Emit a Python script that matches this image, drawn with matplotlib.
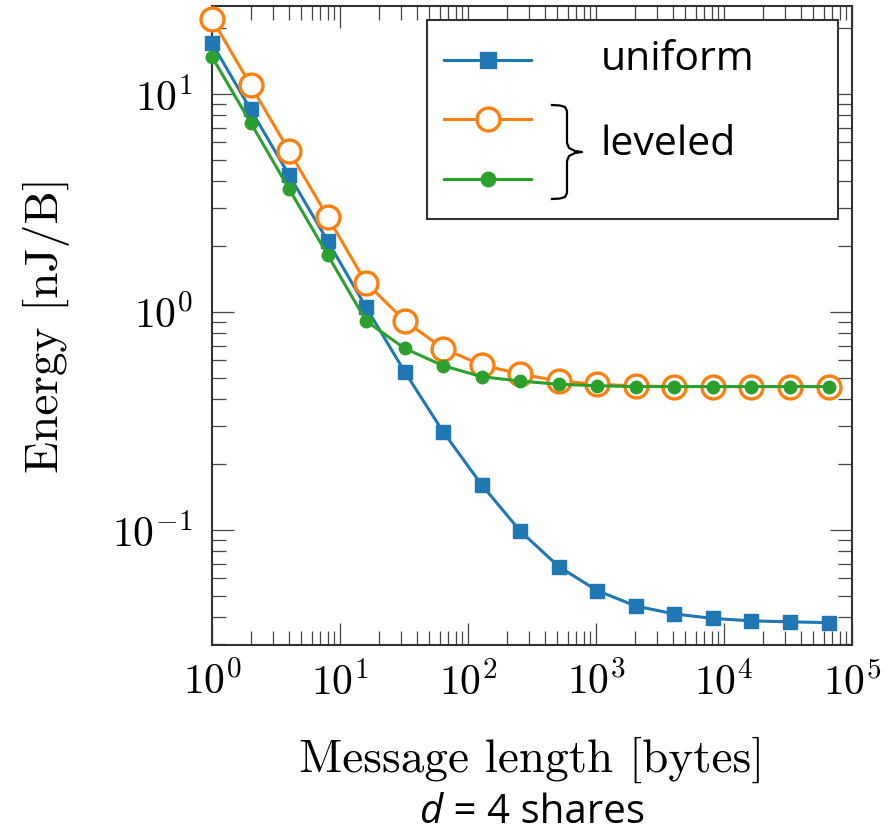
import numpy as np
import matplotlib
matplotlib.use("Agg")
import matplotlib.pyplot as plt
from matplotlib.lines import Line2D
from matplotlib.patches import Rectangle

plt.rcParams['mathtext.fontset'] = 'cm'
plt.rcParams['font.family'] = 'serif'
plt.rcParams['font.serif'] = ['cmr10']
plt.rcParams['axes.formatter.use_mathtext'] = True

# ---- data ----
msg_len = [1, 2, 4, 8, 16, 32, 64, 128, 256, 512, 1024, 2048, 4096, 8192, 16384, 32768, 65536]
uniform = [17.1, 8.5, 4.25, 2.12, 1.05, 0.532, 0.282, 0.161, 0.0989, 0.0679, 0.0527,
           0.0448, 0.0412, 0.0393, 0.0383, 0.0379, 0.0376]
leveled_a = [22.1, 11.0, 5.48, 2.73, 1.36, 0.912, 0.68, 0.571, 0.520, 0.482, 0.466,
             0.458, 0.455, 0.455, 0.455, 0.455, 0.455]
leveled_b = [14.8, 7.4, 3.67, 1.83, 0.91, 0.681, 0.567, 0.505, 0.482, 0.466, 0.459,
             0.455, 0.455, 0.455, 0.455, 0.455, 0.455]
legend_labels = ['uniform', 'leveled']
caption_var, caption_rest = 'd', '= 4 shares'

blue, orange, green = '#1f77b4', '#ff7f0e', '#2ca02c'

W, H = 895, 836
fig = plt.figure(figsize=(W / 100, H / 100), dpi=100)
L, R, T, B = 212, 852, 6, 645
ax = fig.add_axes([L / W, (H - B) / H, (R - L) / W, (B - T) / H])

ax.plot(msg_len, uniform, color=blue, lw=2.2, marker='s', ms=9.5, clip_on=False, zorder=3)
ax.plot(msg_len, leveled_a, color=orange, lw=2.2, marker='o', ms=16.5, mfc='white',
        mec=orange, mew=2.4, clip_on=False, zorder=4)
ax.plot(msg_len, leveled_b, color=green, lw=2.2, marker='o', ms=9, clip_on=False, zorder=5)

ax.set_xscale('log')
ax.set_yscale('log')
ax.set_xlim(1, 1e5)
ylo = 10 ** (-1 - (B - 530) / 218)
yhi = 10 ** ((312 - T) / 218)
ax.set_ylim(ylo, yhi)

ax.tick_params(which='both', direction='in', top=True, right=True, colors='#444444',
               labelcolor='black', labelsize=30)
ax.tick_params(which='major', length=16, width=0.9)
ax.tick_params(which='minor', length=10, width=0.9)
ax.tick_params(axis='x', which='major', pad=12)
ax.tick_params(axis='y', which='major', pad=14)
ax.xaxis.set_major_locator(matplotlib.ticker.LogLocator(base=10, numticks=10))
ax.xaxis.set_minor_locator(matplotlib.ticker.LogLocator(base=10, subs=np.arange(2, 10), numticks=20))
ax.yaxis.set_minor_locator(matplotlib.ticker.LogLocator(base=10, subs=np.arange(2, 10), numticks=20))
ax.yaxis.set_minor_formatter(matplotlib.ticker.NullFormatter())
ax.xaxis.set_minor_formatter(matplotlib.ticker.NullFormatter())
for s in ax.spines.values():
    s.set_linewidth(1.5)
    s.set_color('#333333')

ax.set_xlabel('Message length [bytes]', fontsize=34, labelpad=24)
ax.set_ylabel('Energy [nJ/B]', fontsize=34, labelpad=30)

# caption: italic variable followed by upright text, centred under the axes
cy = 1 - 813 / H
t1 = fig.text(0, cy, caption_var, ha='left', va='center', fontsize=29,
              family='Open Sans', style='italic')
t2 = fig.text(0, cy, ' ' + caption_rest, ha='left', va='center', fontsize=29,
              family='Open Sans')
fig.canvas.draw()
r = fig.canvas.get_renderer()
w1 = t1.get_window_extent(r).width
w2 = t2.get_window_extent(r).width
cx = 0.5 * (L + R)
start = cx - (w1 + w2) / 2
t1.set_x(start / W)
t2.set_x((start + w1) / W)

# custom legend (pixel -> axes coordinates)
def ac(px, py):
    return (px - L) / (R - L), (B - py) / (B - T)

x0, y0 = ac(427, 219)
x1, y1 = ac(838, 20)
ax.add_patch(Rectangle((x0, y0), x1 - x0, y1 - y0, transform=ax.transAxes, fill=True,
                       facecolor='white', edgecolor='#333333', lw=1.5, zorder=10, clip_on=False))
rows = [(60, blue, 's', 9.5, blue), (119, orange, 'o', 16.5, 'white'), (179, green, 'o', 9, green)]
for py, c, m, ms, fc in rows:
    xa, ya = ac(444, py)
    xb, _ = ac(531, py)
    xm, _ = ac(488, py)
    ax.add_line(Line2D([xa, xb], [ya, ya], color=c, lw=2.2, transform=ax.transAxes, zorder=11, clip_on=False))
    ax.add_line(Line2D([xm], [ya], color=c, marker=m, ms=ms, mfc=fc, mec=c, mew=2.4,
                       transform=ax.transAxes, zorder=12, clip_on=False))

tx, ty = ac(601, 60)
ax.text(tx, ty, legend_labels[0], transform=ax.transAxes, fontsize=29.5, family='Open Sans',
        ha='left', va='center', zorder=12)
tx, ty = ac(601, 145)
ax.text(tx, ty, legend_labels[1], transform=ax.transAxes, fontsize=29.5, family='Open Sans',
        ha='left', va='center', zorder=12)

# brace
bx = [552, 560, 565, 567, 567, 569, 575, 582, 575, 569, 567, 567, 565, 560, 552]
by = [105, 105.5, 107, 111, 143, 148, 151, 152, 153, 156, 161, 193, 197, 198.5, 199]
pts = [ac(a, b) for a, b in zip(bx, by)]
ax.add_line(Line2D([p[0] for p in pts], [p[1] for p in pts], color='black', lw=1.6,
                   transform=ax.transAxes, zorder=12, clip_on=False, solid_joinstyle='round'))

fig.savefig('out.png', dpi=100)
